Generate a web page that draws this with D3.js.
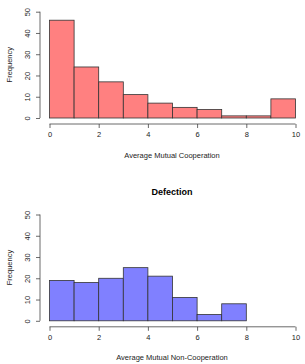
<!DOCTYPE html>
<html>
<head>
<meta charset="utf-8">
<script src="https://cdn.jsdelivr.net/npm/d3@7"></script>
<style>
  body { margin: 0; background: white; }
  text { font-family: "Liberation Sans", Arial, sans-serif; }
</style>
</head>
<body>
<div id="chart-area"></div>
<script>
// histogram bins (unit width) and counts
var binStarts = [0, 1, 2, 3, 4, 5, 6, 7, 8, 9];
var coopCounts = [46, 24, 17, 11, 7, 5, 4, 1, 1, 9];
var defectCounts = [19, 18, 20, 25, 21, 11, 3, 8];
var xTicks = [0, 2, 4, 6, 8, 10];
var yTicks = [0, 10, 20, 30, 40, 50];

var svg = d3.select("#chart-area")
  .append("svg")
  .attr("width", 305)
  .attr("height", 364);

function panel(top, counts, fill, xTitle, title) {
  var x = d3.scaleLinear().domain([0, 10]).range([49.5, 295.5]);
  var y = d3.scaleLinear().domain([0, 50]).range([top + 106.3, top]);
  var g = svg.append("g");
  var axisY = top + 112.3;

  if (title) {
    g.append("text")
      .attr("x", 172)
      .attr("y", top - 20)
      .attr("text-anchor", "middle")
      .attr("font-size", "9px")
      .attr("font-weight", "bold")
      .text(title);
  }

  var data = counts.map((c, i) => ({ x0: binStarts[i], n: c }));

  g.selectAll("rect")
    .data(data)
    .enter().append("rect")
    .attr("x", d => x(d.x0))
    .attr("y", d => y(d.n))
    .attr("width", d => x(d.x0 + 1) - x(d.x0))
    .attr("height", d => y(0) - y(d.n))
    .attr("fill", fill)
    .attr("stroke", "#333")
    .attr("stroke-width", 0.8);

  // bottom axis (R style: line spans first to last tick)
  var xAxis = g.append("g")
    .attr("transform", "translate(0," + axisY + ")")
    .call(d3.axisBottom(x).tickValues(xTicks).tickSize(4).tickPadding(4));
  xAxis.select(".domain").attr("d", "M" + x(0) + ",0H" + x(10));
  xAxis.selectAll("text").attr("font-size", "7.5px").attr("fill", "#222").attr("font-family", "Liberation Sans, Arial, sans-serif");

  var yAxis = g.append("g")
    .attr("transform", "translate(40,0)")
    .call(d3.axisLeft(y).tickValues(yTicks).tickSize(4).tickPadding(3));
  yAxis.select(".domain").attr("d", "M0," + y(0) + "V" + y(50));
  yAxis.selectAll("text")
    .attr("font-size", "7.5px")
    .attr("fill", "#222")
    .attr("font-family", "Liberation Sans, Arial, sans-serif")
    .attr("text-anchor", "middle")
    .attr("x", 0)
    .attr("dy", 0)
    .attr("transform", "translate(-10,0) rotate(-90)");
  svg.selectAll(".domain, .tick line").attr("stroke", "#444").attr("stroke-width", 0.8);

  g.append("text")
    .attr("x", 172)
    .attr("y", axisY + 33.5)
    .attr("text-anchor", "middle")
    .attr("font-size", "7.5px")
    .attr("fill", "#222")
    .text(xTitle);

  g.append("text")
    .attr("transform", "translate(12," + (top + 53) + ") rotate(-90)")
    .attr("text-anchor", "middle")
    .attr("font-size", "7.5px")
    .attr("fill", "#222")
    .text("Frequency");
}

panel(11.7, coopCounts, "#ff8080", "Average Mutual Cooperation", null);
panel(214.5, defectCounts, "#8080ff", "Average Mutual Non-Cooperation", "Defection");
</script>
</body>
</html>
